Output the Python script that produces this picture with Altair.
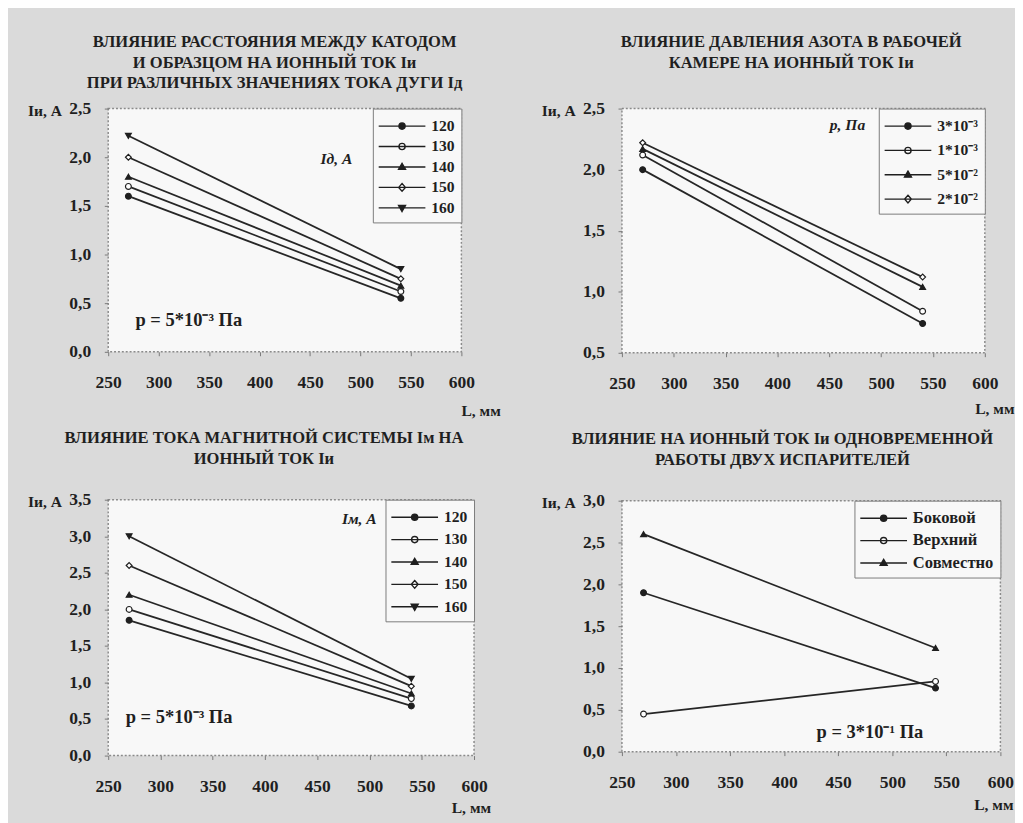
import altair as alt
import pandas as pd

# ---------------- data ----------------
L_MM = [270, 540]

P1_SERIES = ["120", "130", "140", "150", "160"]
P1_START = [1.60, 1.70, 1.80, 2.00, 2.22]
P1_END = [0.55, 0.62, 0.68, 0.75, 0.85]

P2_SERIES = ["3*10⁻³", "1*10⁻³", "5*10⁻²", "2*10⁻²"]
P2_START = [2.00, 2.12, 2.17, 2.22]
P2_END = [0.74, 0.84, 1.04, 1.12]

P3_SERIES = ["120", "130", "140", "150", "160"]
P3_START = [1.85, 2.00, 2.20, 2.60, 3.00]
P3_END = [0.68, 0.78, 0.85, 0.95, 1.05]

P4_SERIES = ["Боковой", "Верхний", "Совместно"]
P4_START = [1.90, 0.45, 2.60]
P4_END = [0.76, 0.84, 1.24]

X_TICKS = [250, 300, 350, 400, 450, 500, 550, 600]
P1_Y_TICKS = [0.0, 0.5, 1.0, 1.5, 2.0, 2.5]
P2_Y_TICKS = [0.5, 1.0, 1.5, 2.0, 2.5]
P3_Y_TICKS = [0.0, 0.5, 1.0, 1.5, 2.0, 2.5, 3.0, 3.5]
P4_Y_TICKS = [0.0, 0.5, 1.0, 1.5, 2.0, 2.5, 3.0]

P1_TITLE = ["ВЛИЯНИЕ РАССТОЯНИЯ МЕЖДУ КАТОДОМ",
            "И ОБРАЗЦОМ НА ИОННЫЙ ТОК Iи",
            "ПРИ РАЗЛИЧНЫХ ЗНАЧЕНИЯХ ТОКА ДУГИ Iд"]
P2_TITLE = ["ВЛИЯНИЕ ДАВЛЕНИЯ АЗОТА В РАБОЧЕЙ",
            "КАМЕРЕ НА ИОННЫЙ ТОК Iи"]
P3_TITLE = ["ВЛИЯНИЕ ТОКА МАГНИТНОЙ СИСТЕМЫ Iм НА",
            "ИОННЫЙ ТОК Iи"]
P4_TITLE = ["ВЛИЯНИЕ НА ИОННЫЙ ТОК Iи ОДНОВРЕМЕННОЙ",
            "РАБОТЫ ДВУХ ИСПАРИТЕЛЕЙ"]

Y_TITLE = "Iи, А"
X_TITLE = "L, мм"
P1_LEG_TITLE = "Iд, А"
P2_LEG_TITLE = "p, Па"
P3_LEG_TITLE = "Iм, А"
P1_NOTE = "p = 5*10⁻³ Па"
P3_NOTE = "p = 5*10⁻³ Па"
P4_NOTE = "p = 3*10⁻¹ Па"

# ---------------- styles ----------------
FONT = "Liberation Serif"
INK = "#1f1f1f"

# plot marker, legend symbol (line + marker; unit square [-1,1] = 20 px)
MARKERS = {
    "dot": ("circle", "M-1.2,0H3.6M1.52,0A0.32,0.32,0,1,1,0.88,0A0.32,0.32,0,1,1,1.52,0Z"),
    "tri": ("triangle-up", "M-1.2,0H3.6M1.2,-0.38L1.56,0.25L0.84,0.25Z"),
    "dia": ("diamond", "M-1.2,0H3.6M1.2,-0.4L1.55,0L1.2,0.4L0.85,0Z"),
    "tdn": ("triangle-down", "M-1.2,0H3.6M1.2,0.38L1.56,-0.25L0.84,-0.25Z"),
}
P1_MARKS = [("dot", True), ("dot", False), ("tri", True), ("dia", False), ("tdn", True)]
P2_MARKS = [("dot", True), ("dot", False), ("tri", True), ("dia", False)]
P3_MARKS = [("dot", True), ("dot", False), ("tri", True), ("dia", False), ("tdn", True)]
P4_MARKS = [("dot", True), ("dot", False), ("tri", True)]

LABEL_EXPR = "replace(format(datum.value, '.1f'), '.', ',')"


def text_layer(txt, x, y, size, align="left", baseline="middle", italic=False):
    return (alt.Chart(pd.DataFrame({"t": [txt]}))
            .mark_text(font=FONT, fontSize=size, fontWeight="bold",
                       fontStyle="italic" if italic else "normal", lineBreak="\n",
                       lineHeight=21, align=align, baseline=baseline, color=INK)
            .encode(text="t:N", x=alt.value(x), y=alt.value(y)))


def panel(series, start, end, marks, y_ticks, title, title_x, title_y, width, height,
          leg_title=None, leg_title_pos=None, note=None, note_pos=None,
          leg_label_size=16, leg_row_pad=2, xt_dx=40, xt_dy=50):
    rows = []
    for k, s in enumerate(series):
        rows.append({"k": k, "s": s, "L": L_MM[0], "I": start[k]})
        rows.append({"k": k, "s": s, "L": L_MM[1], "I": end[k]})
    df = pd.DataFrame(rows)

    x = alt.X("L:Q", scale=alt.Scale(domain=[250, 600], nice=False, zero=False),
              axis=alt.Axis(values=X_TICKS, format="d", title=X_TITLE, labelFlush=False,
                            titleX=width + xt_dx, titleY=xt_dy, titleAlign="right",
                            titleBaseline="middle", labelPadding=19))
    y = alt.Y("I:Q", scale=alt.Scale(domain=[y_ticks[0], y_ticks[-1]], nice=False, zero=False),
              axis=alt.Axis(values=y_ticks, labelExpr=LABEL_EXPR, title=Y_TITLE, labelFlush=False,
                            titleAngle=0, titleX=-48, titleY=2, titleAlign="right",
                            titleBaseline="middle", labelPadding=14))

    base = alt.Chart(df)
    layers = [base.mark_line(color="#262626", strokeWidth=1.8).encode(x=x, y=y, detail="s:N")]
    for k, (mk, filled) in enumerate(marks):
        layers.append(
            base.transform_filter(alt.datum.k == k)
            .mark_point(shape=MARKERS[mk][0], size=36, fill=INK if filled else "white",
                        stroke=INK, strokeWidth=1.2, opacity=1)
            .encode(x=x, y=y)
        )

    leg = alt.Legend(title=None, orient="top-right", offset=0, padding=7,
                     symbolSize=400, symbolStrokeWidth=1.4, symbolOpacity=1,
                     labelFont=FONT, labelFontSize=leg_label_size, labelFontWeight="bold",
                     labelColor=INK, labelOffset=31, rowPadding=leg_row_pad,
                     strokeColor="#7a7a7a", fillColor="#f8f8f8")
    paths = [MARKERS[mk][1] for mk, _ in marks]
    fills = [INK if f else "white" for _, f in marks]
    strokes = [INK for _ in marks]
    layers.append(
        base.transform_filter(alt.datum.k < 0)
        .mark_point(filled=True, opacity=1)
        .encode(x=x, y=y,
                shape=alt.Shape("s:N", scale=alt.Scale(domain=series, range=paths), legend=leg),
                fill=alt.Fill("s:N", scale=alt.Scale(domain=series, range=fills), legend=leg),
                stroke=alt.Stroke("s:N", scale=alt.Scale(domain=series, range=strokes), legend=leg))
    )
    layers.append(text_layer("\n".join(title), title_x, title_y, 17, align="center", baseline="top"))
    if leg_title:
        layers.append(text_layer(leg_title, leg_title_pos[0], leg_title_pos[1], 16,
                                 align="right", italic=True))
    if note:
        layers.append(text_layer(note, note_pos[0], note_pos[1], 19))
    return alt.layer(*layers).properties(width=width, height=height)


c1 = panel(P1_SERIES, P1_START, P1_END, P1_MARKS, P1_Y_TICKS, P1_TITLE, 171, -76, 363, 250,
           leg_title=P1_LEG_TITLE, leg_title_pos=(251, 52), note=P1_NOTE, note_pos=(28, 217),
           xt_dy=60)
c2 = panel(P2_SERIES, P2_START, P2_END, P2_MARKS, P2_Y_TICKS, P2_TITLE, 174, -76, 373, 251,
           leg_title=P2_LEG_TITLE, leg_title_pos=(250, 17), leg_row_pad=6, xt_dx=30, xt_dy=57)
c3 = panel(P3_SERIES, P3_START, P3_END, P3_MARKS, P3_Y_TICKS, P3_TITLE, 160, -71, 376, 263,
           leg_title=P3_LEG_TITLE, leg_title_pos=(276, 20), note=P3_NOTE, note_pos=(18, 223),
           leg_row_pad=4, xt_dx=17, xt_dy=53)
c4 = panel(P4_SERIES, P4_START, P4_END, P4_MARKS, P4_Y_TICKS, P4_TITLE, 165, -71, 389, 258,
           note=P4_NOTE, note_pos=(200, 238), leg_label_size=17, leg_row_pad=4,
           xt_dx=13, xt_dy=54)

RES = dict(shape="independent", fill="independent", stroke="independent")
left = alt.vconcat(c1, c3, spacing=10).resolve_scale(**RES).resolve_legend(**RES)
right = alt.vconcat(c2, c4, spacing=13).resolve_scale(**RES).resolve_legend(**RES)

chart = (
    alt.hconcat(left, right, spacing=40)
    .resolve_scale(**RES)
    .resolve_legend(**RES)
    .properties(padding={"left": 19, "top": 14, "right": 0, "bottom": 0})
    .configure(background="#dadada")
    .configure_view(stroke="#8a8a8a", strokeWidth=1.5, strokeDash=[2, 2], fill="#f8f8f8")
    .configure_axis(labelFont=FONT, labelFontSize=18, labelFontWeight="bold", labelColor=INK,
                    titleFont=FONT, titleFontSize=16, titleFontWeight="bold", titleColor=INK,
                    tickColor="#777777", tickSize=4, domain=False, grid=False)
)

chart.save("out.html", embed_options={"renderer": "svg", "actions": False})
